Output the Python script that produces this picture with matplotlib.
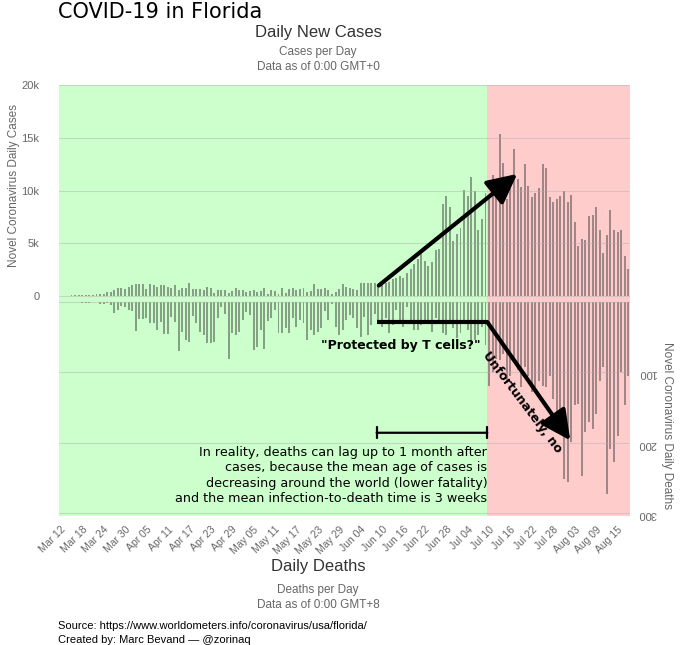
import matplotlib.pyplot as plt
import numpy as np
import pandas as pd

dates = pd.date_range('2020-03-12', '2020-08-18')
day_labels = [d.strftime('%b %d') for d in dates]

cases = [20, 30, 40, 50, 60, 70, 90, 100,
         100, 60, 220, 160, 160, 380, 410, 600, 730, 790,
         630, 890, 1010, 1170, 1170, 1140, 630, 1170, 1010, 890,
         1010, 1010, 890, 790, 1010, 540, 790, 730, 1260, 630,
         630, 630, 540, 890, 790, 290, 540, 540, 540, 290,
         480, 790, 600, 540, 380, 470, 540, 380, 470, 730,
         160, 600, 470, 160, 790, 320, 630, 790, 540, 630,
         730, 380, 470, 1110, 630, 630, 730, 540, 160, 380,
         630, 1110, 850, 730, 630, 540, 1200, 1260, 1200, 1200,
         1200, 1040, 1170, 1260, 1330, 1580, 1670, 1900, 1670, 2210,
         2530, 3000, 3480, 3950, 3320, 2840, 3200, 4400, 4500, 8750,
         9480, 8440, 5210, 5850, 6480, 10020, 9480, 11310, 9950, 6230,
         7270, 9800,
         9400, 11450, 10700, 15350, 12630, 9180, 10220, 13920, 11070, 10290,
         12500, 10410, 9430, 9810, 10220, 12500, 12180, 9340, 8920, 9240,
         9460, 9960, 8920, 9560, 7020, 4720, 5450, 5350, 7590, 7660,
         8450, 6230, 4080, 5760, 8130, 6230, 6070, 6300, 3770, 2600]

deaths = [0, 0, 0, 1, 0, 1,
          2, 2, 2, 1, 1, 4, 4, 2, 5,
          16, 12, 6, 8, 12, 13, 42, 25, 25, 24,
          30, 31, 41, 29, 46, 46, 22, 29, 70, 43,
          54, 57, 21, 31, 43, 48, 59, 59, 57, 23,
          7, 17, 82, 45, 48, 43, 26, 15, 19, 69,
          64, 40, 67, 28, 24, 12, 45, 45, 38, 45,
          24, 36, 26, 31, 55, 41, 48, 43, 38, 14,
          26, 3, 36, 48, 41, 26, 19, 24, 38, 50,
          22, 48, 33, 17, 26, 36, 24, 45, 33, 12,
          26, 36, 7, 31, 41, 41, 33, 26, 31, 43,
          24, 26, 45, 48, 30, 37, 52, 44, 27, 40,
          62, 55, 48, 36, 62,
          119, 100, 81, 83, 74, 116, 105, 86, 97, 121,
          93, 105, 128, 121, 112, 119, 121, 105, 138, 171,
          178, 251, 256, 199, 147, 145, 247, 185, 171, 180,
          159, 112, 93, 273, 209, 228, 190, 100, 147, 105]

case_ticks = [0, 5000, 10000, 15000, 20000]
case_tick_labels = ['0', '5k', '10k', '15k', '20k']
death_ticks = [100, 200, 300]

x = np.arange(len(dates))
red_start = day_labels.index('Jul 10') - 0.5

gray = '#666666'
bar_color = '#3a3a3a'
ui_font = 'Liberation Sans'

fig = plt.figure(figsize=(6.8, 6.45), dpi=100)
ax = fig.add_axes([0.0868, 0.2, 0.8397, 0.6682])
ax2 = ax.twinx()

ax.axvspan(-0.5, red_start, color='#ccffcc', zorder=0, lw=0)
ax.axvspan(red_start, len(x) - 0.5, color='#ffcccc', zorder=0, lw=0)

ax.bar(x, cases, width=0.55, color=bar_color, alpha=0.48, zorder=2)
ax2.bar(x, deaths, width=0.55, color=bar_color, alpha=0.48, zorder=2)

ax.set_xlim(-0.5, len(x) - 0.5)
ax.set_ylim(-20850, 20000)
ax2.set_ylim(304, -307)

ax.set_yticks(case_ticks)
ax.set_yticklabels(case_tick_labels, fontsize=8, color=gray, family=ui_font)
ax2.set_yticks(death_ticks)
ax2.set_yticklabels([str(t) for t in death_ticks], fontsize=8, color=gray,
                    family=ui_font, rotation=180)
ax.tick_params(axis='y', length=0, pad=14)
ax2.tick_params(axis='y', length=0, pad=6)
for a in (ax, ax2):
    for s in a.spines.values():
        s.set_visible(False)
    a.grid(axis='y', color='#b0b0b0', alpha=0.45, lw=0.8)
    a.set_axisbelow(False)
ax2.axhline(0, color='#b0b0b0', alpha=0.45, lw=0.8)

ax.set_xticks(x[::6])
ax.set_xticklabels(day_labels[::6], rotation=45, ha='right', rotation_mode='anchor',
                   fontsize=7.5, color=gray, family=ui_font)
ax.tick_params(axis='x', length=0, pad=6)

# annotations
ax.annotate('', xy=(128.5, 11740), xytext=(88.5, 830),
            arrowprops=dict(arrowstyle='-|>,head_length=0.9,head_width=0.45',
                            lw=3, color='black', mutation_scale=20), zorder=5)
ax2.plot([88.5, 119.5], [29, 29], color='black', lw=3, solid_capstyle='butt', zorder=5)
ax2.annotate('', xy=(143.2, 200), xytext=(119.5, 29),
             arrowprops=dict(arrowstyle='-|>,head_length=0.9,head_width=0.45',
                             lw=3, color='black', mutation_scale=20,
                             shrinkA=0), zorder=5)
ax2.text(117.5, 62, '"Protected by T cells?"', ha='right', va='center',
         fontsize=9, fontweight='bold', family='DejaVu Sans', zorder=6)
ax2.text(129.3, 143, 'Unfortunately, no', ha='center', va='center', rotation=-53,
         rotation_mode='anchor', fontsize=9, fontweight='bold',
         family='DejaVu Sans', zorder=6)
ax2.annotate('', xy=(119.5, 186), xytext=(88.5, 186),
             arrowprops=dict(arrowstyle='|-|,widthA=0.4,widthB=0.4', lw=1.6,
                             color='black', shrinkA=0, shrinkB=0), zorder=5)
ax2.text(119.5, 205, 'In reality, deaths can lag up to 1 month after\n'
         'cases, because the mean age of cases is\n'
         'decreasing around the world (lower fatality)\n'
         'and the mean infection-to-death time is 3 weeks',
         ha='right', va='top', multialignment='right', fontsize=9.2,
         family='DejaVu Sans', linespacing=1.22, zorder=6)

# figure texts
fig.text(0.085, 0.972, 'COVID-19 in Florida', fontsize=15, family='DejaVu Sans',
         va='baseline')
fig.text(0.468, 0.950, 'Daily New Cases', fontsize=12, color='#333333',
         family=ui_font, ha='center', va='center')
fig.text(0.468, 0.919, 'Cases per Day', fontsize=8.5, color=gray,
         family=ui_font, ha='center', va='center')
fig.text(0.468, 0.896, 'Data as of 0:00 GMT+0', fontsize=8.5, color=gray,
         family=ui_font, ha='center', va='center')
fig.text(0.021, 0.713, 'Novel Coronavirus Daily Cases', fontsize=8.5, color=gray,
         family=ui_font, rotation=90, ha='center', va='center')
fig.text(0.981, 0.341, 'Novel Coronavirus Daily Deaths', fontsize=8.5, color=gray,
         family=ui_font, rotation=-90, ha='center', va='center')
fig.text(0.468, 0.121, 'Daily Deaths', fontsize=12, color='#333333',
         family=ui_font, ha='center', va='center')
fig.text(0.468, 0.085, 'Deaths per Day', fontsize=8.5, color=gray,
         family=ui_font, ha='center', va='center')
fig.text(0.468, 0.062, 'Data as of 0:00 GMT+8', fontsize=8.5, color=gray,
         family=ui_font, ha='center', va='center')
fig.text(0.085, 0.029, 'Source: https://www.worldometers.info/coronavirus/usa/florida/',
         fontsize=8, family=ui_font, va='center')
fig.text(0.085, 0.008, 'Created by: Marc Bevand — @zorinaq',
         fontsize=8, family=ui_font, va='center')

fig.savefig('out.png', dpi=100)
